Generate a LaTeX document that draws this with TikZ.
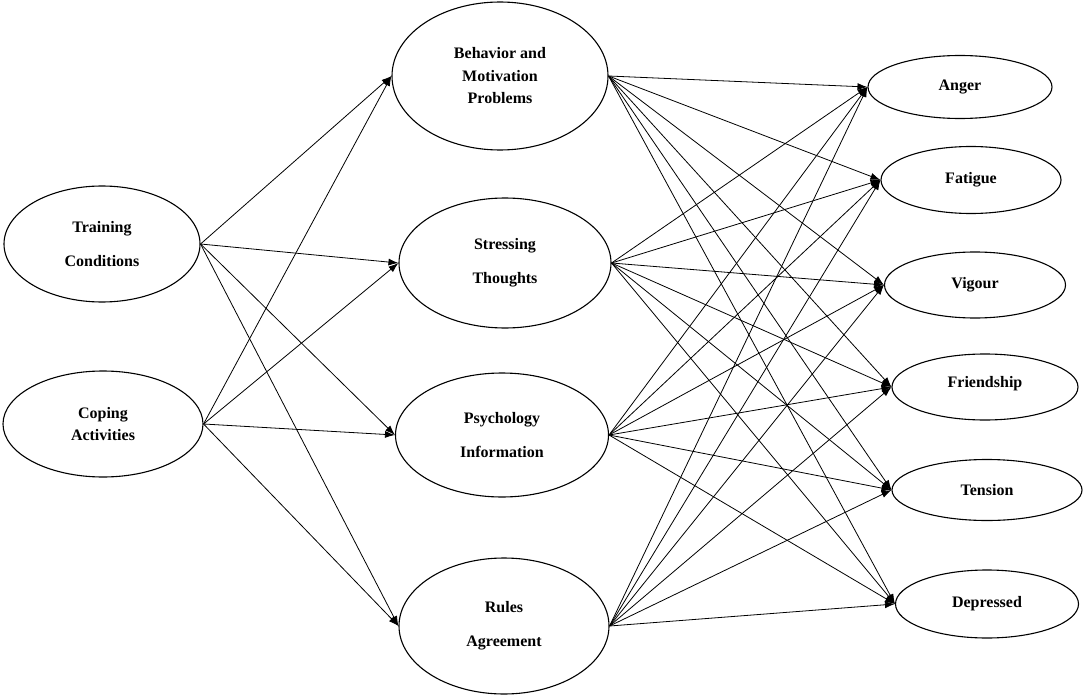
\documentclass[tikz,border=0pt]{standalone}
\usepackage{fontspec}
\setmainfont{Liberation Serif}
\usetikzlibrary{shapes.geometric,arrows.meta}
\tikzset{
  oval/.style={ellipse, draw=black, line width=1.1pt, inner sep=0pt, align=center, font=\bfseries\fontsize{16}{34}\selectfont},
  ovaltight/.style={oval, font=\bfseries\fontsize{16}{22.5}\selectfont},
  link/.style={line width=0.8pt, -{Latex[length=10pt,width=7pt]}}
}
\begin{document}
\begin{tikzpicture}[x=1pt,y=-1pt]
\useasboundingbox (0,0) rectangle (1084,698);
% left
\node[oval, minimum width=196pt, minimum height=116pt] (tc) at (102,244) {Training\\Conditions};
\node[ovaltight, minimum width=200pt, minimum height=106pt] (ca) at (103,424) {Coping\\Activities};
% middle
\node[ovaltight, minimum width=216pt, minimum height=148pt] (bm) at (500,76) {Behavior and\\Motivation\\Problems};
\node[oval, minimum width=212pt, minimum height=130pt] (st) at (505,263) {Stressing\\Thoughts};
\node[oval, minimum width=213pt, minimum height=124pt] (pi) at (502,435) {Psychology\\Information};
\node[oval, minimum width=210pt, minimum height=136pt] (ra) at (504,626) {Rules\\Agreement};
% right
\node[oval, minimum width=184pt, minimum height=63pt] (an) at (960,87) {Anger};
\node[oval, minimum width=180pt, minimum height=67pt] (fa) at (971,180) {Fatigue};
\node[oval, minimum width=181pt, minimum height=66pt] (vi) at (975,285) {Vigour};
\node[oval, minimum width=186pt, minimum height=66pt] (fr) at (985,387) {\raisebox{11pt}{Friendship}};
\node[oval, minimum width=190pt, minimum height=61pt] (te) at (987,490) {Tension};
\node[oval, minimum width=183pt, minimum height=68pt] (de) at (987,604) {Depressed};
% links
\foreach \s in {tc,ca}
  \foreach \t in {bm,st,pi,ra}
    \draw[link] (\s.east) -- (\t.west);
\foreach \s in {bm,st,pi,ra}
  \foreach \t in {an,fa,vi,fr,te,de}
    \draw[link] (\s.east) -- (\t.west);
\end{tikzpicture}
\end{document}
